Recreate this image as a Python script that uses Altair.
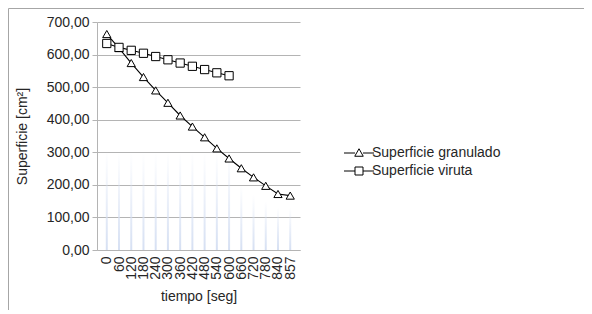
import altair as alt
import pandas as pd

tiempo = ["0", "60", "120", "180", "240", "300", "360", "420", "480", "540",
          "600", "660", "720", "780", "840", "857"]
granulado = [663, 620, 574, 531, 490, 452, 413, 379, 346, 312, 281, 251, 223, 197, 172, 167]
viruta = [634, 622, 613, 604, 594, 584, 574, 564, 554, 544, 535]
faint = [305, 300, 300, 300, 300, 300, 300, 300, 300, 300, 300, 200, 170, 150, 130, 130]
series = ["Superficie granulado", "Superficie viruta"]

rows = []
for t, v in zip(tiempo, granulado):
    rows.append({"tiempo": t, "valor": v, "serie": series[0]})
for t, v in zip(tiempo, viruta):
    rows.append({"tiempo": t, "valor": v, "serie": series[1]})
df = pd.DataFrame(rows)
df_faint = pd.DataFrame({"tiempo": tiempo, "valor": faint})

FONT = "Liberation Sans"
FS = 14
GRID = "#b4b4b4"

xscale = alt.Scale(domain=tiempo, type="point", padding=0.8)
yscale = alt.Scale(domain=[0, 700])

x_enc = alt.X("tiempo:N", scale=xscale, sort=tiempo,
              axis=alt.Axis(title="tiempo [seg]", labelAngle=-90, ticks=False,
                            domainColor=GRID, labelPadding=6, titlePadding=10,
                            grid=False))
y_enc = alt.Y("valor:Q", scale=yscale,
              axis=alt.Axis(title="Superficie [cm²]", values=list(range(0, 701, 100)),
                            labelExpr="replace(format(datum.value, '.2f'), '.', ',')",
                            tickSize=5, tickColor=GRID, domainColor=GRID,
                            gridColor=GRID, labelPadding=3, titlePadding=17))

faint_layer = alt.Chart(df_faint).mark_bar(
    width=2,
    color=alt.Gradient(gradient="linear",
                       stops=[alt.GradientStop(color="rgba(214,224,243,1)", offset=0),
                              alt.GradientStop(color="rgba(214,224,243,0)", offset=1)],
                       x1=0, y1=1, x2=0, y2=0)
).encode(x=x_enc, y=y_enc)

lines = alt.Chart(df).mark_line(color="black", strokeWidth=1.1).encode(
    x=x_enc, y=y_enc, detail="serie:N")

shape_scale = alt.Scale(domain=series, range=["triangle-up", "square"])
points = alt.Chart(df).mark_point(filled=True, fill="white", stroke="black",
                                  strokeWidth=1, size=68, opacity=1).encode(
    x=x_enc, y=y_enc,
    shape=alt.Shape("serie:N", scale=shape_scale, legend=None))

tri_path = "M-3,0L-0.8,0M0.8,0L3,0M0,-0.85L0.85,0.65L-0.85,0.65Z"
sq_path = "M-3,0L-0.8,0M0.8,0L3,0M-0.8,-0.8L0.8,-0.8L0.8,0.8L-0.8,0.8Z"
legend_layer = alt.Chart(df).mark_point(filled=False, color="black",
                                        strokeWidth=1, size=100).encode(
    x=x_enc, y=y_enc,
    shape=alt.Shape("serie:N",
                    scale=alt.Scale(domain=series, range=[tri_path, sq_path]),
                    legend=alt.Legend(title=None, orient="none", legendX=255, legendY=124,
                                      symbolSize=100, labelOffset=6, rowPadding=4,
                                      symbolStrokeColor="black", symbolStrokeWidth=1,
                                      symbolOpacity=1,
                                      labelFontSize=FS, labelFont=FONT,
                                      labelColor="#262626"))
).transform_filter("false")

frame_left = alt.Chart(pd.DataFrame({"a": [0]})).mark_rule(color="#a6a6a6", strokeWidth=1).encode(
    x=alt.value(-88.5), y=alt.value(-13.5), y2=alt.value(400))
frame_top = alt.Chart(pd.DataFrame({"a": [0]})).mark_rule(color="#a6a6a6", strokeWidth=1).encode(
    x=alt.value(-88.5), x2=alt.value(600), y=alt.value(-13.5))

chart = alt.layer(faint_layer, lines, points, legend_layer, frame_left, frame_top).resolve_scale(
    shape="independent"
).properties(
    width=203, height=228,
    autosize=alt.AutoSizeParams(type="none"),
    padding={"left": 89, "top": 14, "right": 284, "bottom": 60},
).configure_view(stroke=None).configure_axis(
    labelFont=FONT, titleFont=FONT, labelFontSize=FS, titleFontSize=FS,
    titleFontWeight="normal", labelColor="#262626", titleColor="#262626"
)

chart.save("out.html", embed_options={"renderer": "svg", "actions": False})
